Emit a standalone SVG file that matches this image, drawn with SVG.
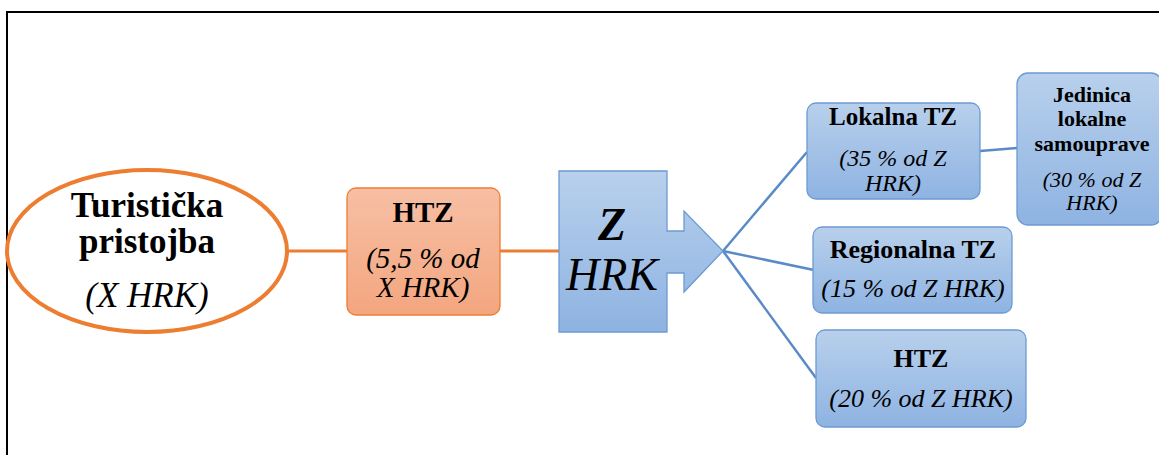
<svg xmlns="http://www.w3.org/2000/svg" width="1159" height="455" viewBox="0 0 1159 455">
<defs>
<linearGradient id="gBlue" x1="0" y1="0" x2="0" y2="1">
<stop offset="0" stop-color="#B8D0EC"/>
<stop offset="1" stop-color="#8EB3E2"/>
</linearGradient>
<linearGradient id="gOrange" x1="0" y1="0" x2="0" y2="1">
<stop offset="0" stop-color="#F7BFA4"/>
<stop offset="1" stop-color="#F3A67F"/>
</linearGradient>
<style>
text{fill:#000;text-anchor:middle}
.b{font-weight:bold}
.i{font-style:italic}
.blue{fill:url(#gBlue);stroke:#6C9BD2;stroke-width:1.3}
.or{fill:url(#gOrange);stroke:#ED7D31;stroke-width:1.3}
.cb{stroke:#5A8BC8;stroke-width:2.5;fill:none}
.co{stroke:#ED7D31;stroke-width:3;fill:none}
</style>
</defs>
<rect width="1159" height="455" fill="#fff"/>
<g id="frame">
<path d="M7 455 V12 H1159" fill="none" stroke="#000" stroke-width="2"/>
</g>
<g id="connectors">
<line class="co" x1="287" y1="251" x2="347" y2="251"/>
<line class="co" x1="500" y1="251" x2="559" y2="251"/>
<line class="cb" x1="723" y1="251" x2="807" y2="152"/>
<line class="cb" x1="723" y1="251" x2="814" y2="270"/>
<line class="cb" x1="723" y1="251" x2="816" y2="378"/>
<line class="cb" x1="980" y1="151" x2="1017" y2="148"/>
</g>
<g font-family="Liberation Serif, Times New Roman, serif">
<g id="turisticka">
<ellipse cx="147" cy="251" rx="140" ry="81" fill="#fff" stroke="#ED7D31" stroke-width="4"/>
<text class="b" x="147" y="217" font-size="35">Turistička</text>
<text class="b" x="147" y="253" font-size="35">pristojba</text>
<text class="i" x="147" y="307" font-size="35">(X HRK)</text>
</g>
<g id="htz1">
<rect class="or" x="347" y="188" width="153" height="127" rx="9"/>
<text class="b" x="423" y="222" font-size="29">HTZ</text>
<text class="i" x="423" y="268" font-size="29">(5,5 % od</text>
<text class="i" x="423" y="297" font-size="29">X HRK)</text>
</g>
<g id="zhrk">
<polygon class="blue" points="559,171 667,171 667,231 684,231 684,211 723,251 684,292 684,273 667,273 667,332 559,332"/>
<text class="b i" x="612" y="240" font-size="46">Z</text>
<text class="i" x="612" y="290" font-size="46">HRK</text>
</g>
<g id="lokalna">
<rect class="blue" x="807" y="103" width="173" height="96" rx="9"/>
<text class="b" x="893" y="125" font-size="25">Lokalna TZ</text>
<text class="i" x="893" y="166" font-size="24">(35 % od Z</text>
<text class="i" x="893" y="191" font-size="24">HRK)</text>
</g>
<g id="jedinica">
<rect class="blue" x="1017" y="73" width="145" height="152" rx="11"/>
<text class="b" x="1092" y="102" font-size="22">Jedinica</text>
<text class="b" x="1092" y="126" font-size="22">lokalne</text>
<text class="b" x="1092" y="151" font-size="22">samouprave</text>
<text class="i" x="1092" y="187" font-size="22">(30 % od Z</text>
<text class="i" x="1092" y="210" font-size="22">HRK)</text>
</g>
<g id="regionalna">
<rect class="blue" x="813" y="227" width="199" height="86" rx="9"/>
<text class="b" x="913" y="258" font-size="26">Regionalna TZ</text>
<text class="i" x="913" y="297" font-size="26">(15 % od Z HRK)</text>
</g>
<g id="htz2">
<rect class="blue" x="816" y="330" width="210" height="97" rx="9"/>
<text class="b" x="921" y="367" font-size="26">HTZ</text>
<text class="i" x="921" y="407" font-size="26">(20 % od Z HRK)</text>
</g>
</g>
</svg>
